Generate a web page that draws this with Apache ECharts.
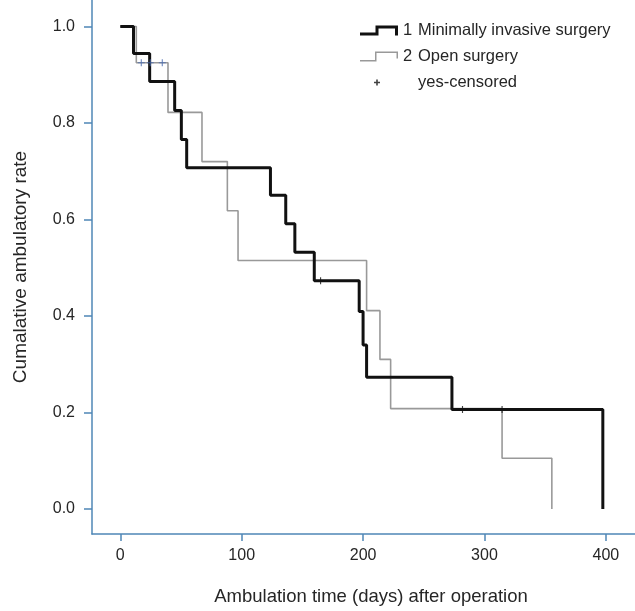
<!DOCTYPE html>
<html><head><meta charset="utf-8">
<script src="https://cdn.jsdelivr.net/npm/echarts@6/dist/echarts.min.js"></script>
<style>html,body{margin:0;padding:0;background:#fff}#c{width:635px;height:611px}</style>
</head><body><div id="c"></div>
<script>
// Kaplan-Meier steps: [day, cumulative ambulatory rate]
const minimallyInvasive = [[0,1.0],[10.9,0.944],[24.2,0.886],[44.8,0.826],[50.3,0.766],[54.7,0.707],[123.7,0.650],[136.3,0.591],[143.8,0.532],[159.8,0.473],[196.8,0.409],[200.0,0.340],[202.9,0.273],[273.2,0.206],[397.5,0.0]];
const openSurgery = [[0,1.0],[13.2,0.925],[39.3,0.822],[67.3,0.720],[88.2,0.618],[97.0,0.515],[202.9,0.411],[213.9,0.310],[222.7,0.208],[314.5,0.105],[355.5,0.0]];
const censoredMinimal = [[165.0,0.473],[281.9,0.206],[314.5,0.206]];
const censoredOpen = [[17.3,0.925],[24.7,0.925],[34.6,0.925]];
const xTicks = [0,100,200,300,400];
const yTicks = [0,0.2,0.4,0.6,0.8,1.0];
const seriesNames = ['Minimally invasive surgery','Open surgery','yes-censored'];
const legendDigits = ['1','2',' '];

const FONT = "'Liberation Sans',Arial,sans-serif";
const AXIS = '#4f87b6';
const TXT = '#262626';
const CROSS = 'path://M4.2,0 L5.8,0 L5.8,4.2 L10,4.2 L10,5.8 L5.8,5.8 L5.8,10 L4.2,10 L4.2,5.8 L0,5.8 L0,4.2 L4.2,4.2 Z';

const chart = echarts.init(document.getElementById('c'), null, {renderer:'canvas'});
chart.setOption({
  animation:false,
  backgroundColor:'#fff',
  textStyle:{fontFamily:FONT},
  grid:{left:92,right:0,top:0,bottom:77,containLabel:false},
  legend:{
    orient:'vertical', left:355, top:17, itemWidth:38, itemHeight:10, itemGap:9,
    selectedMode:false,
    itemStyle:{borderWidth:0},
    textStyle:{fontFamily:FONT,fontSize:16.5,color:TXT,
      rich:{d:{width:15,fontSize:16.5,fontFamily:FONT,color:TXT},t:{fontSize:16.5,fontFamily:FONT,color:TXT}}},
    formatter:function(n){const i=seriesNames.indexOf(n);return '{d|'+legendDigits[i]+'}{t|'+n+'}';},
    data:[
      {name:seriesNames[0],icon:'path://M0,7 L15.5,7 L15.5,0 L38,0 L38,10 L35,10 L35,3 L18.5,3 L18.5,10 L0,10 Z'},
      {name:seriesNames[1],icon:'path://M0,8.5 L15,8.5 L15,0 L38,0 L38,7 L36.5,7 L36.5,1.5 L16.5,1.5 L16.5,10 L0,10 Z'},
      {name:seriesNames[2],icon:'path://M16.2,2 L17.8,2 L17.8,4.2 L20,4.2 L20,5.8 L17.8,5.8 L17.8,8 L16.2,8 L16.2,5.8 L14,5.8 L14,4.2 L16.2,4.2 Z M0,0 L0.01,0 L0,0.01 Z M38,10 L37.99,10 L38,9.99 Z'}
    ]
  },
  xAxis:{
    type:'value', min:-23.3, max:424,
    name:'Ambulation time (days) after operation', nameLocation:'middle', nameGap:53,
    nameTextStyle:{fontFamily:FONT,fontSize:18.5,color:TXT,padding:[0,0,0,15]},
    axisLine:{show:true,onZero:false,lineStyle:{color:AXIS,width:1.5}},
    axisTick:{show:true,length:7,customValues:xTicks,lineStyle:{color:AXIS,width:1.5}},
    axisLabel:{customValues:xTicks,margin:14,fontFamily:FONT,fontSize:16,color:TXT},
    splitLine:{show:false}
  },
  yAxis:{
    type:'value', min:-0.052, max:1.055,
    name:'Cumalative ambulatory rate', nameLocation:'middle', nameGap:62, nameRotate:90,
    nameTextStyle:{fontFamily:FONT,fontSize:19,color:TXT},
    axisLine:{show:true,onZero:false,lineStyle:{color:AXIS,width:1.5}},
    axisTick:{show:true,length:8,customValues:yTicks,lineStyle:{color:AXIS,width:1.5}},
    axisLabel:{customValues:yTicks,margin:17,fontFamily:FONT,fontSize:16,color:TXT,formatter:function(v){return v.toFixed(1);}},
    splitLine:{show:false}
  },
  series:[
    {name:seriesNames[1],type:'line',step:'end',data:openSurgery,showSymbol:false,symbol:'none',
      color:'#999999',lineStyle:{color:'#999999',width:1.6},z:2},
    {name:seriesNames[0],type:'line',step:'end',data:minimallyInvasive,showSymbol:false,symbol:'none',
      color:'#111111',lineStyle:{color:'#111111',width:3},z:3},
    {name:seriesNames[2],type:'scatter',data:censoredMinimal,symbol:CROSS,symbolSize:7,
      itemStyle:{color:'#111111'},color:'#111111',z:4},
    {name:'censored (open surgery)',type:'scatter',data:censoredOpen,symbol:CROSS,symbolSize:7,
      itemStyle:{color:'#4a6cb0'},z:4}
  ]
});
</script></body></html>
